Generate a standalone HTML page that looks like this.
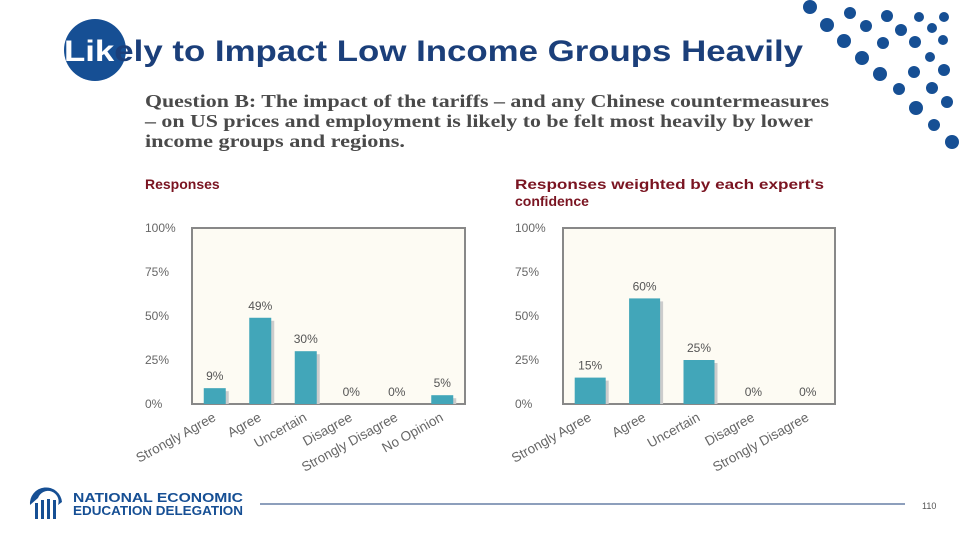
<!DOCTYPE html>
<html><head><meta charset="utf-8"><style>
body{margin:0;width:960px;height:540px;background:#fff;overflow:hidden;position:relative;font-family:"Liberation Sans",sans-serif}
.abs{position:absolute}
</style></head><body>
<svg class="abs" style="left:0;top:0" width="960" height="540">
<g id="dots" fill="#164f94"></g>
<circle cx="95" cy="50" r="31" fill="#164f94"/>
<text x="64" y="61" font-family="Liberation Sans" font-weight="bold" font-size="30" fill="#1b3f7a" textLength="739" lengthAdjust="spacingAndGlyphs"><tspan fill="#fff">Lik</tspan>ely to Impact Low Income Groups Heavily</text>
<g font-family="Liberation Serif" font-weight="bold" font-size="18" fill="#4a4a4a">
<text x="145" y="107" textLength="684" lengthAdjust="spacingAndGlyphs">Question B: The impact of the tariffs – and any Chinese countermeasures</text>
<text x="145" y="127" textLength="668" lengthAdjust="spacingAndGlyphs">– on US prices and employment is likely to be felt most heavily by lower</text>
<text x="145" y="147" textLength="260" lengthAdjust="spacingAndGlyphs">income groups and regions.</text></g>
<g font-family="Liberation Sans" font-weight="bold" font-size="14" fill="#7a1421">
<text x="145" y="189">Responses</text>
<text x="515" y="189" textLength="309" lengthAdjust="spacingAndGlyphs">Responses weighted by each expert's</text>
<text x="515" y="206">confidence</text></g>
<g id="chartL"></g>
<g id="chartR"></g>
<g>
<path d="M30 505 A14 14 0 0 1 62 502 L58 505 A10 10 0 0 0 38 498 Z" fill="#164f94"/>
<rect x="35" y="503" width="3" height="16" fill="#164f94"/><rect x="41" y="500" width="3" height="19" fill="#164f94"/>
<rect x="47" y="499" width="3" height="20" fill="#164f94"/><rect x="53" y="500" width="3" height="19" fill="#164f94"/>
<text x="73" y="502" font-size="13" font-weight="bold" fill="#164f94" textLength="170" lengthAdjust="spacingAndGlyphs">NATIONAL ECONOMIC</text>
<text x="73" y="515" font-size="13" font-weight="bold" fill="#164f94" textLength="170" lengthAdjust="spacingAndGlyphs">EDUCATION DELEGATION</text></g>
<line x1="260" y1="504" x2="905" y2="504" stroke="#1b3f7a" stroke-width="1"/>
<text x="922" y="509" font-size="9" fill="#555">110</text>
</svg>
<script>
const dotData=[[810,7,7],[827,25,7],[850,13,6],[844,41,7],[866,26,6],[887,16,6],[883,43,6],[862,58,7],[901,30,6],[919,17,5],[932,28,5],[944,17,5],[915,42,6],[943,40,5],[880,74,7],[914,72,6],[930,57,5],[944,70,6],[899,89,6],[932,88,6],[916,108,7],[947,102,6],[934,125,6],[952,142,7]];
const NS="http://www.w3.org/2000/svg";
const dg=document.getElementById('dots');
dotData.forEach(d=>{const c=document.createElementNS(NS,'circle');c.setAttribute('cx',d[0]);c.setAttribute('cy',d[1]);c.setAttribute('r',d[2]);


dg.appendChild(c);});

const catsL=["Strongly Agree","Agree","Uncertain","Disagree","Strongly Disagree","No Opinion"];
const valsL=[9,49,30,0,0,5];
const catsR=["Strongly Agree","Agree","Uncertain","Disagree","Strongly Disagree"];
const valsR=[15,60,25,0,0];
const ticks=[0,25,50,75,100];

function el(t,a,p){const e=document.createElementNS(NS,t);for(const k in a)e.setAttribute(k,a[k]);p.appendChild(e);return e;}
function draw(g,x0,x1,cats,vals,bw,tickX){
 const y0=404,y1=228;const ys=v=>y0-(y0-y1)*v/100;
 const bg=el('rect',{x:x0,y:y1,width:x1-x0,height:y0-y1,fill:'#fdfbf3',stroke:'#888','stroke-width':2},g);
 
 ticks.forEach(t=>{const tx=el('text',{x:tickX,y:ys(t)+4,'font-size':12,fill:'#666','font-family':'Liberation Sans'},g);tx.textContent=t+'%';
  
  });
 const step=(x1-x0)/cats.length;
 cats.forEach((c,i)=>{const cx=x0+step*(i+0.5);const v=vals[i];
  if(v>0){const r=el('rect',{x:cx-bw/2+3,y:ys(v)+3,width:bw,height:y0-ys(v)-3,fill:'#ccc'},g);
   
   const b=el('rect',{x:cx-bw/2,y:ys(v),width:bw,height:y0-ys(v),fill:'#42a6b9'},g);
   
   }
  const lv=el('text',{x:cx,y:ys(v)-8,'font-size':12,fill:'#555','text-anchor':'middle','font-family':'Liberation Sans'},g);lv.textContent=v+'%';
  
  
  const xl=el('text',{x:cx+2,y:y0+16,'font-size':13.5,fill:'#666','text-anchor':'end','font-family':'Liberation Sans',transform:`rotate(-29 ${cx+2} ${y0+16})`},g);xl.textContent=c;
  
  });
}
draw(document.getElementById('chartL'),192,465,catsL,valsL,22,145);
draw(document.getElementById('chartR'),563,835,catsR,valsR,31,515);
</script>
</body></html>
